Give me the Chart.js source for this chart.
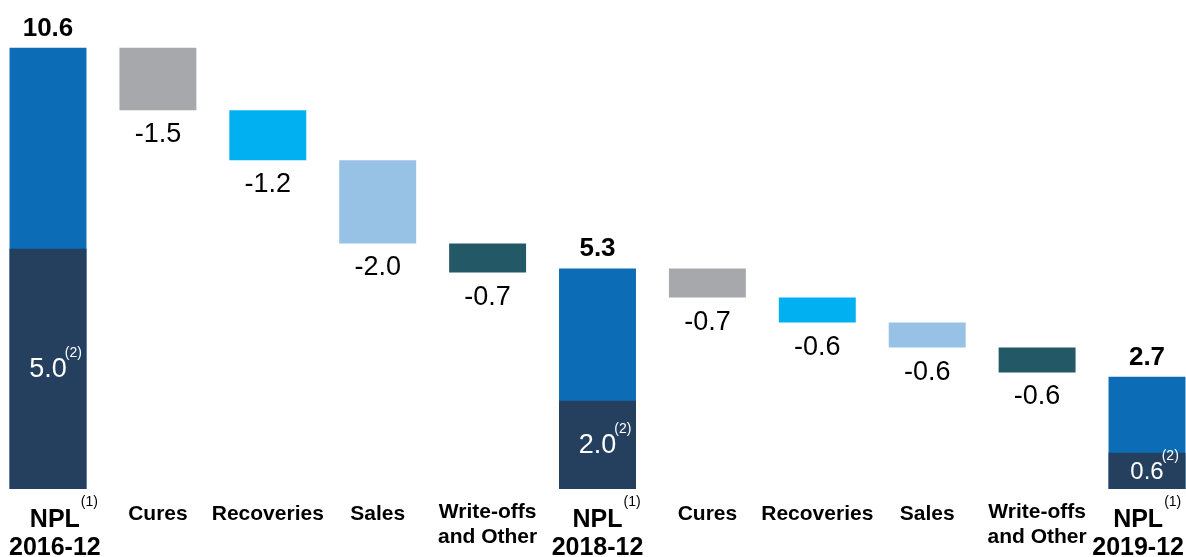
<!DOCTYPE html>
<html>
<head>
<meta charset="utf-8">
<script src="https://cdn.jsdelivr.net/npm/chart.js@4"></script>
<style>
  body { margin: 0; background: #fff; }
  #wrap { width: 1186px; height: 557px; }
</style>
</head>
<body>
<div id="wrap"><canvas id="npl"></canvas></div>
<script>
// categories, one entry per bar (lines of the axis label)
const labelLines = [
  ['NPL', '2016-12'], ['Cures'], ['Recoveries'], ['Sales'], ['Write-offs', 'and Other'],
  ['NPL', '2018-12'], ['Cures'], ['Recoveries'], ['Sales'], ['Write-offs', 'and Other'],
  ['NPL', '2019-12']
];
// NPL stock at each date (null for movements)
const totals = [10.6, null, null, null, null, 5.3, null, null, null, null, 2.7];
// movements between dates
const deltas = [null, -1.5, -1.2, -2.0, -0.7, null, -0.7, -0.6, -0.6, -0.6, null];
// dark part of each NPL bar: label text and height as drawn in the picture
const subsetLabels = ['5.0', null, null, null, null, '2.0', null, null, null, null, '0.6'];
const subsetHeights = [5.77, null, null, null, null, 2.12, null, null, null, null, 0.87];

const FONT = '"Liberation Sans", Arial, sans-serif';
const moveColors = ['#A7A8AC', '#00B0F0', '#98C1E6', '#235966'];

// build floating bars
let level = 0, moveIdx = 0;
const waterfall = [], barColors = [];
for (let i = 0; i < labelLines.length; i++) {
  if (totals[i] !== null) {
    waterfall.push([0, totals[i]]);
    level = totals[i];
    barColors.push('#0C6CB5');
    moveIdx = 0;
  } else {
    const next = Math.round((level + deltas[i]) * 100) / 100;
    waterfall.push([level, next]);
    level = next;
    barColors.push(moveColors[moveIdx++ % moveColors.length]);
  }
}

const labelPlugin = {
  id: 'labels',
  afterDatasetsDraw(chart) {
    const ctx = chart.ctx;
    const wf = chart.getDatasetMeta(1).data;
    const sub = chart.getDatasetMeta(0).data;
    ctx.save();
    ctx.textAlign = 'center';
    ctx.textBaseline = 'alphabetic';
    for (let i = 0; i < wf.length; i++) {
      const bar = wf[i];
      const top = Math.min(bar.y, bar.base);
      const bottom = Math.max(bar.y, bar.base);
      ctx.fillStyle = '#000';
      if (totals[i] !== null) {
        ctx.font = 'bold 26px ' + FONT;
        ctx.fillText(totals[i].toFixed(1), bar.x, top - 12);
        // white label inside dark part
        const s = sub[i];
        const h = Math.abs(s.base - s.y);
        const size = h < 50 ? 24 : 27;
        ctx.font = size + 'px ' + FONT;
        ctx.fillStyle = '#fff';
        ctx.textBaseline = 'middle';
        const mid = (s.y + s.base) / 2 + 1;
        ctx.fillText(subsetLabels[i], s.x, mid);
        const w = ctx.measureText(subsetLabels[i]).width;
        ctx.textAlign = 'left';
        ctx.textBaseline = 'alphabetic';
        ctx.font = '14px ' + FONT;
        ctx.fillText('(2)', s.x + w / 2 - 2, mid - size * 0.36 - 3);
        ctx.textAlign = 'center';
      } else {
        ctx.font = '27px ' + FONT;
        ctx.fillText(deltas[i].toFixed(1), bar.x, bottom + 32);
      }

      // axis labels
      ctx.fillStyle = '#000';
      const lines = labelLines[i];
      if (lines[0] === 'NPL') {
        ctx.font = 'bold 25px ' + FONT;
        const wd = ctx.measureText(lines[1]).width;
        let cx = Math.max(bar.x, 9 + wd / 2);
        cx = Math.min(cx, chart.width - 2 - wd / 2);
        ctx.fillText(lines[0], cx, 527);
        ctx.fillText(lines[1], cx, 555);
        const wn = ctx.measureText(lines[0]).width;
        ctx.font = '14px ' + FONT;
        ctx.textAlign = 'left';
        ctx.fillText('(1)', cx + wn / 2 + 1, 506);
        ctx.textAlign = 'center';
      } else {
        ctx.font = 'bold 21px ' + FONT;
        if (lines.length === 1) {
          ctx.fillText(lines[0], bar.x, 520);
        } else {
          ctx.fillText(lines[0], bar.x, 518);
          ctx.fillText(lines[1], bar.x, 543);
        }
      }
    }
    ctx.restore();
  }
};

new Chart(document.getElementById('npl'), {
  type: 'bar',
  data: {
    labels: labelLines.map(l => l.join(' ')),
    datasets: [
      {
        label: 'Subset',
        data: subsetHeights,
        backgroundColor: '#253F5F',
        order: 0,
        clip: false
      },
      {
        label: 'NPL',
        data: waterfall,
        backgroundColor: barColors,
        order: 1,
        clip: false
      }
    ]
  },
  options: {
    responsive: true,
    maintainAspectRatio: false,
    animation: false,
    layout: { padding: { left: 48, right: 39, top: 0, bottom: 68 } },
    datasets: { bar: { barPercentage: 0.7, categoryPercentage: 1.0, borderWidth: 0 } },
    plugins: { legend: { display: false }, tooltip: { enabled: false } },
    scales: {
      x: { display: false, stacked: true, offset: false },
      y: { display: false, min: 0, max: 11.75 }
    }
  },
  plugins: [labelPlugin]
});
</script>
</body>
</html>
